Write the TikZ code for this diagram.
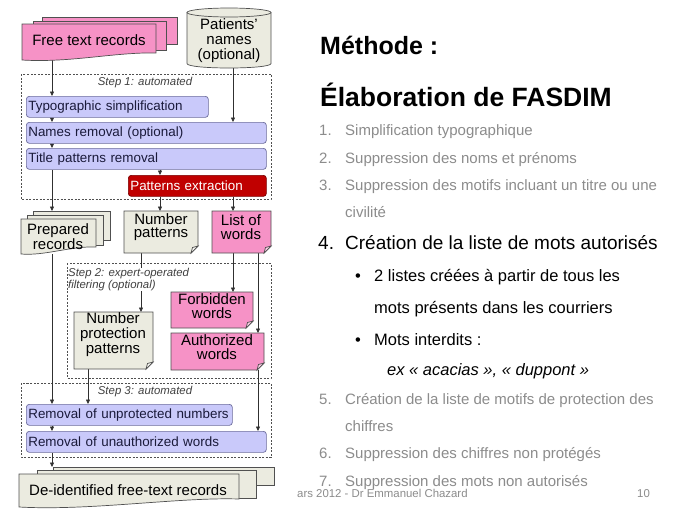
\documentclass[tikz,border=0pt]{standalone}
\usepackage{fontspec}
\setmainfont{Liberation Sans}
\usetikzlibrary{arrows.meta}
\definecolor{pinkf}{HTML}{F692C6}
\definecolor{lavf}{HTML}{C9C9FA}
\definecolor{lavedge}{HTML}{6C6C9C}
\definecolor{creamf}{HTML}{EBEBE0}
\definecolor{redf}{HTML}{C00000}
\definecolor{rededge}{HTML}{7A0000}
\definecolor{edgec}{HTML}{505050}
\definecolor{graytxt}{HTML}{8C8C8C}
\definecolor{linec}{HTML}{303030}
\definecolor{steptxt}{HTML}{404040}
\definecolor{boxtxt}{HTML}{1A1A3A}
\pgfdeclarelayer{bg}
\pgfsetlayers{bg,main}
\newcommand{\fs}[2]{\fontsize{#1}{#2}\selectfont}
\newcommand{\noteshape}[5]{%
  \draw[shapeline, fill=#5] (#1,#2) -- (#3,#2) -- (#3,{#4-7}) -- ({#3-7},#4) -- (#1,#4) -- cycle;
  \draw[shapeline, fill=white!55!#5] ({#3-7},#4) -- ({#3-5.5},{#4-5.5}) -- (#3,{#4-7}) -- cycle;}
\tikzset{
  shapeline/.style={draw=edgec, line width=0.7pt},
  proc/.style={draw=lavedge, fill=lavf, rounded corners=3pt, line width=0.7pt, anchor=north west, minimum height=21pt, inner xsep=2pt, inner ysep=0pt, align=left, text=boxtxt, font=\fs{13.4}{14}},
  box/.style={anchor=north west, inner sep=0pt, draw=none},
  lbl/.style={align=center, inner sep=0pt, font=\fs{15}{14.5}},
  steplbl/.style={inner sep=0pt, font=\fs{11.4}{12}\itshape, text=steptxt},
  stepbox/.style={draw=edgec, line width=0.6pt, dash pattern=on 2pt off 1.5pt},
  arr/.style={draw=linec, line width=0.6pt, -{Triangle[length=4.5pt,width=4pt]}},
  gr/.style={anchor=base west, inner sep=0pt, text=graytxt, font=\fs{15}{15}},
  bk/.style={anchor=base west, inner sep=0pt, text=black},
}
\begin{document}
\begin{tikzpicture}[x=1pt,y=-1pt]
\begin{pgfonlayer}{bg}
\fill[white] (0,0) rectangle (689,517);
\end{pgfonlayer}
\useasboundingbox (0,0) rectangle (689,517);
\coordinate (cA) at (52,0);
\coordinate (cB) at (233,0);
\coordinate (cC) at (160,0);
\coordinate (cD) at (141,0);
\coordinate (cE) at (258,0);
\coordinate (cF) at (88,0);

% Free text records
\draw[shapeline, fill=pinkf] (42,17) rectangle (177,44);
\draw[shapeline, fill=pinkf] (33,21) rectangle (166,50);
\draw[shapeline, fill=pinkf] (22,24) -- (156,24) -- (156,53) .. controls (115,52) and (70,63) .. (22,60) -- cycle;
\node[box, minimum width=155pt, minimum height=43pt] (ftr) at (22,17) {};
\node[lbl] (ftrT) at (89,40) {Free text records};

% Patients' names cylinder
\draw[shapeline, fill=creamf] (187,12.5) -- (187,63.5) .. controls (187,69.5) and (271,69.5) .. (271,63.5) -- (271,12.5) -- cycle;
\draw[shapeline, fill=creamf] (229,12.5) ellipse [x radius=42pt, y radius=4.5pt];
\node[box, minimum width=84pt, minimum height=60pt] (pn) at (187,8) {};
\node[lbl, font=\fs{15}{15}] (pnT) at (229,41) {Patients'\\names\\(optional)};

% Step 1
\node[steplbl] (s1) at (145,83) {Step 1: automated};
\node[proc, text width=178pt] (ts) at (26,96) {Typographic simplification};
\node[proc, text width=236pt] (nr) at (26,122) {Names removal (optional)};
\node[proc, text width=236pt] (tp) at (26,148) {Title patterns removal};
\node[proc, text width=134pt, fill=redf, draw=rededge, text=white] (pe) at (128,175) {Patterns extraction};

% Prepared records
\draw[shapeline, fill=creamf] (33,211) rectangle (110,240);
\draw[shapeline, fill=creamf] (27,215) rectangle (103,245);
\draw[shapeline, fill=creamf] (21,219) -- (96,219) -- (96,247) .. controls (70,246) and (45,256) .. (21,254) -- cycle;
\node[box, minimum width=89pt, minimum height=43pt] (prep) at (21,211) {};
\node[lbl, font=\fs{15}{13}] (prepT) at (58,237) {Prepared\\records};

% Number patterns / List of words
\noteshape{124}{211}{198}{253}{creamf}
\node[box, minimum width=74pt, minimum height=42pt] (np) at (124,211) {};
\node[lbl, font=\fs{15}{13.5}] (npT) at (161,227) {Number\\patterns};
\noteshape{212}{211}{271}{253}{pinkf}
\node[box, minimum width=59pt, minimum height=42pt] (low) at (212,211) {};
\node[lbl, font=\fs{15}{13.5}] (lowT) at (241,227) {List of\\words};

% Step 2
\node[steplbl, anchor=north west, align=left, fill=white] (s2) at (68,268) {Step 2: expert-operated\\filtering (optional)};
\noteshape{74}{312}{153}{369}{creamf}
\node[box, minimum width=79pt, minimum height=57pt] (npp) at (74,312) {};
\node[lbl, font=\fs{15}{15}] (nppT) at (113,335) {Number\\protection\\patterns};
\noteshape{171}{292}{253}{328}{pinkf}
\node[box, minimum width=82pt, minimum height=36pt] (fw) at (171,292) {};
\node[lbl, font=\fs{15}{14}] (fwT) at (212,306) {Forbidden\\words};
\noteshape{171}{333}{264}{370}{pinkf}
\node[box, minimum width=93pt, minimum height=37pt] (aw) at (171,333) {};
\node[lbl, font=\fs{15}{13.5}] (awT) at (217,347) {Authorized\\words};

% Step 3
\node[steplbl] (s3) at (145,392) {Step 3: automated};
\node[proc, text width=202pt] (run) at (26,404) {Removal of unprotected numbers};
\node[proc, text width=236pt] (ruw) at (26,431) {Removal of unauthorized words};

% De-identified
\draw[shapeline, fill=creamf] (53,467) rectangle (274,485);
\draw[shapeline, fill=creamf] (37,470) rectangle (256,498);
\draw[shapeline, fill=creamf] (19,474) -- (239,474) -- (239,499) .. controls (180,497) and (90,511) .. (19,507) -- cycle;
\node[box, minimum width=255pt, minimum height=40pt] (deid) at (19,467) {};
\node[lbl] (deidT) at (128,490) {De-identified free-text records};

% Connectors
\begin{pgfonlayer}{bg}
\draw[stepbox] (21,74) rectangle (271,199);
\draw[stepbox] (67,263) rectangle (271,378);
\draw[stepbox] (21,383) rectangle (271,457);
\draw[arr] (ftr.south -| cA) -- (ts.north -| cA);
\draw[arr] (pn.south -| cB) -- (nr.north -| cB);
\draw[arr] (ts.south -| cA) -- (nr.north -| cA);
\draw[arr] (nr.south -| cA) -- (tp.north -| cA);
\draw[arr] (tp.south -| cC) -- (pe.north -| cC);
\draw[arr] (tp.south -| cA) -- (prep.north -| cA);
\draw[arr] (pe.south -| cC) -- (np.north -| cC);
\draw[arr] (pe.south -| cB) -- (low.north -| cB);
\draw[arr] (np.south -| cD) -- (npp.north -| cD);
\draw[arr] (low.south -| cB) -- (fw.north -| cB);
\draw[arr] (low.south -| cE) -- (aw.north -| cE);
\draw[arr] (prep.south -| cA) -- (run.north -| cA);
\draw[arr] (npp.south -| cF) -- (run.north -| cF);
\draw[arr] (run.south -| cA) -- (ruw.north -| cA);
\draw[arr] (aw.south -| cE) -- (ruw.north -| cE);
\draw[arr] (ruw.south -| cA) -- (deid.north -| cA);
\end{pgfonlayer}

% Right side text
\node[bk, font=\fs{25}{25}\bfseries] (t1) at (320,54) {Méthode :};
\node[bk, font=\fs{26.5}{27}\bfseries] (t2) at (320,106) {Élaboration de FASDIM};
\node[gr] (n1) at (319,135) {1.};
\node[gr] (i1) at (345,135) {Simplification typographique};
\node[gr] (n2) at (319,163) {2.};
\node[gr] (i2) at (345,163) {Suppression des noms et prénoms};
\node[gr] (n3) at (319,190) {3.};
\node[gr] (i3) at (345,190) {Suppression des motifs incluant un titre ou une};
\node[gr] (i3b) at (345,217) {civilité};
\node[bk, font=\fs{19}{19}] (n4) at (318,249) {4.};
\node[bk, font=\fs{19}{19}] (i4) at (345,249) {Création de la liste de mots autorisés};
\node[bk, font=\fs{16.5}{17}] (b1) at (355,281) {•};
\node[bk, font=\fs{16.5}{17}] (l1) at (374,281) {2 listes créées à partir de tous les};
\node[bk, font=\fs{16.5}{17}] (l1b) at (374,313) {mots présents dans les courriers};
\node[bk, font=\fs{16.5}{17}] (b2) at (355,345) {•};
\node[bk, font=\fs{16.5}{17}] (l2) at (374,345) {Mots interdits :};
\node[bk, font=\fs{16.5}{17}\itshape] (ex) at (387,375) {ex « acacias », « duppont »};
\node[gr] (n5) at (319,404) {5.};
\node[gr] (i5) at (345,404) {Création de la liste de motifs de protection des};
\node[gr] (i5b) at (345,431) {chiffres};
\node[gr] (n6) at (319,458) {6.};
\node[gr] (i6) at (345,458) {Suppression des chiffres non protégés};
\node[gr] (n7) at (319,486) {7.};
\node[gr] (i7) at (345,486) {Suppression des mots non autorisés};
\node[gr, font=\fs{11.4}{12}] (ft) at (297,497) {ars 2012 - Dr Emmanuel Chazard};
\node[gr, font=\fs{11.4}{12}] (pg) at (637,497) {10};
\end{tikzpicture}
\end{document}
